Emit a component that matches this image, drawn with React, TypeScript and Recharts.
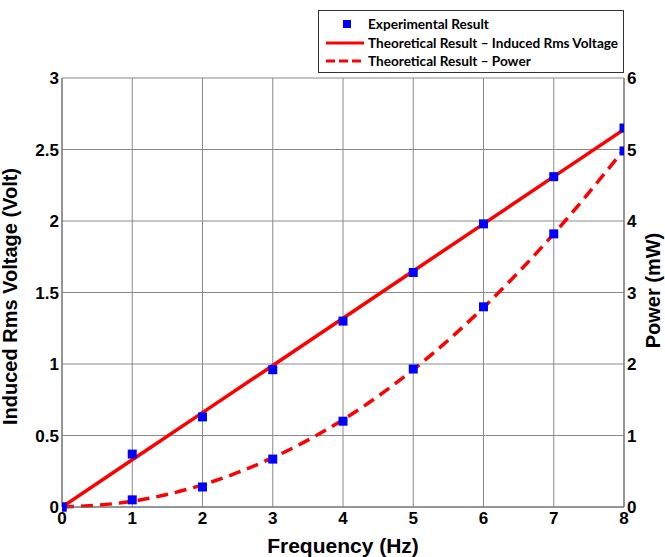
import React from "react";
import { ComposedChart, Line, Scatter, XAxis, YAxis, CartesianGrid } from "recharts";

const frequency = [0, 1, 2, 3, 4, 5, 6, 7, 8];
const expVoltage = [0, 0.37, 0.63, 0.96, 1.3, 1.64, 1.98, 2.31, 2.65];
const expPower = [0, 0.1, 0.28, 0.67, 1.2, 1.93, 2.8, 3.82, 4.98];
const theoVoltage = [0, 0.33, 0.66, 0.99, 1.32, 1.65, 1.98, 2.31, 2.64];
const theoPower = [0, 0.08, 0.31, 0.69, 1.22, 1.92, 2.79, 3.82, 5.0];
const xTicks = [0, 1, 2, 3, 4, 5, 6, 7, 8];
const leftTicks = [0, 0.5, 1, 1.5, 2, 2.5, 3];
const rightTicks = [0, 1, 2, 3, 4, 5, 6];

const data = frequency.map((f, i) => ({
  f,
  ev: expVoltage[i],
  ep: expPower[i],
  tv: theoVoltage[i],
  tp: theoPower[i],
}));

const FONT = "Liberation Sans, Arial, sans-serif";
const LEGEND_FONT = "Lato, Open Sans, sans-serif";

const XTick = (props: any) => {
  const { x, y, payload } = props;
  return (
    <text x={x} y={y + 11} textAnchor="middle" fontFamily={FONT} fontWeight="bold" fontSize={17} fill="#000">
      {payload.value}
    </text>
  );
};
const LeftTick = (props: any) => {
  const { x, y, payload } = props;
  return (
    <text x={x + 2} y={y + 6} textAnchor="end" fontFamily={FONT} fontWeight="bold" fontSize={17} fill="#000">
      {payload.value}
    </text>
  );
};
const RightTick = (props: any) => {
  const { x, y, payload } = props;
  return (
    <text x={x - 2} y={y + 6} textAnchor="start" fontFamily={FONT} fontWeight="bold" fontSize={17} fill="#000">
      {payload.value}
    </text>
  );
};

const SquareShape = (props: any) => {
  const { cx, cy } = props;
  if (cx == null || cy == null) return null;
  return <rect x={cx - 4.5} y={cy - 4.5} width={9} height={9} fill="#0000ff" />;
};

export default function App() {
  return (
    <div style={{ position: "absolute", left: 0, top: 0, width: 665, height: 557, background: "#fff", fontFamily: FONT }}>
      <ComposedChart
        width={665}
        height={557}
        data={data}
        margin={{ top: 78, right: 0, bottom: 0, left: 0 }}
      >
        <CartesianGrid yAxisId="left" stroke="#8a8a8a" strokeWidth={1} />
        <XAxis
          dataKey="f"
          type="number"
          domain={[0, 8]}
          ticks={xTicks}
          height={50}
          tick={<XTick />}
          tickLine={false}
          tickSize={3}
          tickMargin={3}
          axisLine={{ stroke: "#666" }}
          allowDataOverflow
          label={{ value: "Frequency (Hz)", position: "insideBottom", offset: 0, dy: -4, style: { fontFamily: FONT, fontWeight: "bold", fontSize: 21, fill: "#000" } }}
        />
        <YAxis
          yAxisId="left"
          domain={[0, 3]}
          ticks={leftTicks}
          width={62}
          tick={<LeftTick />}
          tickLine={false}
          tickSize={3}
          tickMargin={2}
          axisLine={{ stroke: "#666" }}
          label={{ value: "Induced Rms Voltage (Volt)", angle: -90, position: "insideLeft", offset: 0, dx: 10, dy: 4, style: { textAnchor: "middle", fontFamily: FONT, fontWeight: "bold", fontSize: 20, fill: "#000" } }}
        />
        <YAxis
          yAxisId="right"
          orientation="right"
          domain={[0, 6]}
          ticks={rightTicks}
          width={41}
          tick={<RightTick />}
          tickLine={false}
          tickSize={3}
          tickMargin={2}
          axisLine={{ stroke: "#666" }}
          label={{ value: "Power (mW)", angle: -90, position: "insideRight", offset: 0, dx: -12, dy: -2, style: { textAnchor: "middle", fontFamily: FONT, fontWeight: "bold", fontSize: 20, fill: "#000" } }}
        />
        <Line yAxisId="left" dataKey="tv" stroke="#ff0000" strokeWidth={3.5} dot={false} isAnimationActive={false} />
        <Line yAxisId="right" dataKey="tp" type="monotone" stroke="#ff0000" strokeWidth={3.5} strokeDasharray="12 7" dot={false} isAnimationActive={false} />
        <Scatter yAxisId="left" dataKey="ev" shape={<SquareShape />} isAnimationActive={false} />
        <Scatter yAxisId="right" dataKey="ep" shape={<SquareShape />} isAnimationActive={false} />
      </ComposedChart>
      <div
        style={{
          position: "absolute",
          left: 318,
          top: 10,
          width: 306,
          height: 63,
          boxSizing: "border-box",
          border: "1px solid #333",
          background: "#fff",
        }}
      >
        <svg width={304} height={61} style={{ position: "absolute", left: 0, top: 0 }}>
          <rect x={24} y={9} width={8} height={8} fill="#0000ff" />
          <line x1={7} y1={32} x2={45} y2={32} stroke="#ff0000" strokeWidth={3} />
          <line x1={7} y1={50} x2={45} y2={50} stroke="#ff0000" strokeWidth={3} strokeDasharray="9 4" />
          <text x={49} y={18} fontFamily={LEGEND_FONT} fontWeight="bold" fontSize={13.6}>Experimental Result</text>
          <text x={49} y={37} fontFamily={LEGEND_FONT} fontWeight="bold" fontSize={13.6}>Theoretical Result – Induced Rms Voltage</text>
          <text x={49} y={55} fontFamily={LEGEND_FONT} fontWeight="bold" fontSize={13.6}>Theoretical Result – Power</text>
        </svg>
      </div>
    </div>
  );
}
